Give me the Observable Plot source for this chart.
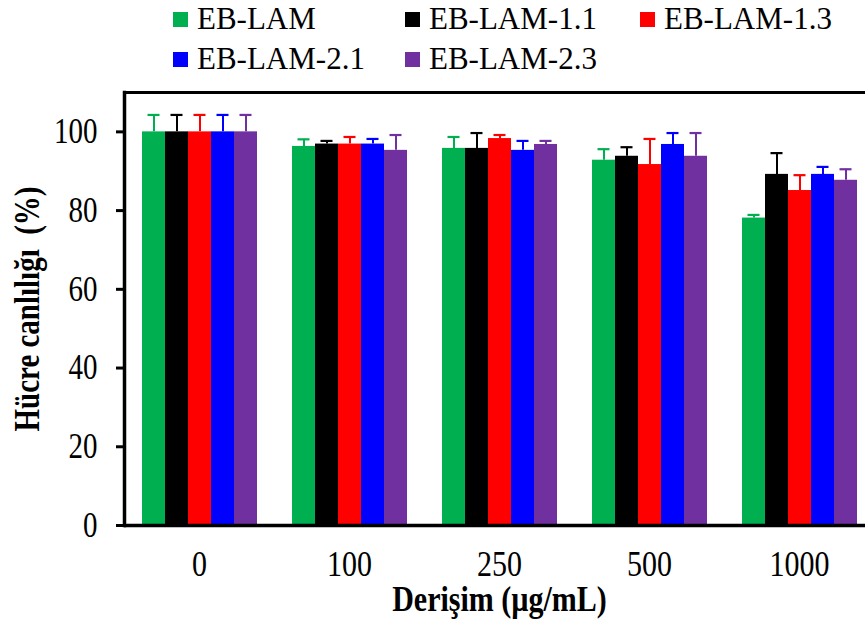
<!DOCTYPE html>
<html>
<head>
<meta charset="utf-8">
<script src="https://cdn.jsdelivr.net/npm/d3@7"></script>
<script src="https://cdn.jsdelivr.net/npm/@observablehq/plot@0.6"></script>
<style>
  html, body { margin: 0; padding: 0; background: #fff; overflow: hidden; }
  #wrap { position: relative; width: 865px; height: 632px; }
  #legend { position: absolute; left: 173px; top: -1px; width: 700px; display: grid;
    grid-template-columns: 232px 235px 225px; font-family: 'Liberation Serif', 'Times New Roman', serif;
    font-size: 31px; line-height: 40px; color: #000; z-index: 2; }
  #legend .item { display: flex; align-items: center; white-space: nowrap; }
  #legend .sw { width: 15px; height: 15px; margin-right: 9px; flex: none; }
  g[aria-label="y-axis label"] text, g[aria-label="fx-axis label"] text { font-weight: bold; }
</style>
</head>
<body>
<div id="wrap"><div id="legend"></div><div id="chart"></div></div>
<script>
const concs = ["0", "100", "250", "500", "1000"];
const series = ["EB-LAM", "EB-LAM-1.1", "EB-LAM-1.3", "EB-LAM-2.1", "EB-LAM-2.3"];
const colors = ["#00B050", "#000000", "#FF0000", "#0000FF", "#7030A0"];
const valEB    = [100, 96.3, 95.8, 92.8, 78.1];
const valEB11  = [100, 96.9, 95.8, 93.8, 89.2];
const valEB13  = [100, 96.9, 98.3, 91.7, 85.1];
const valEB21  = [100, 96.9, 95.3, 96.8, 89.2];
const valEB23  = [100, 95.3, 96.8, 93.8, 87.7];
const errEB    = [4.3, 1.8, 2.9, 2.8, 0.8];
const errEB11  = [4.3, 0.8, 3.9, 2.3, 5.4];
const errEB13  = [4.3, 1.8, 0.9, 6.5, 3.9];
const errEB21  = [4.3, 1.3, 2.4, 2.9, 1.9];
const errEB23  = [4.3, 3.9, 0.9, 5.9, 2.8];
const yTicks = [0, 20, 40, 60, 80, 100];
const yLabel = "Hücre canlılığı\u00a0 (%)";
const xLabel = "Derişim (µg/mL)";

const values = [valEB, valEB11, valEB13, valEB21, valEB23];
const errors = [errEB, errEB11, errEB13, errEB21, errEB23];
const data = [];
concs.forEach((c, i) => series.forEach((s, j) => data.push({conc: c, series: s, value: values[j][i], err: errors[j][i]})));

// legend
const lg = d3.select("#legend");
series.forEach((s, j) => {
  const it = lg.append("div").attr("class", "item");
  it.append("span").attr("class", "sw").style("background", colors[j]);
  it.append("span").text(s);
});

const plot = Plot.plot({
  width: 865,
  height: 632,
  marginLeft: 122,
  marginRight: -10,
  marginTop: 92,
  marginBottom: 107,
  style: {fontFamily: "'Liberation Serif', 'Times New Roman', serif", fontSize: "29px", color: "#000", background: "transparent", overflow: "visible"},
  fx: {domain: concs, paddingInner: 0, paddingOuter: 0},
  x: {domain: series, paddingInner: 0, paddingOuter: 0.746, axis: null},
  y: {domain: [0, 110]},
  color: {domain: series, range: colors},
  marks: [
    Plot.barY(data, {fx: "conc", x: "series", y: "value", fill: "series"}),
    Plot.ruleX(data, {fx: "conc", x: "series", y1: "value", y2: d => d.value + d.err, stroke: "series", strokeWidth: 2}),
    Plot.tickY(data, {fx: "conc", x: "series", y: d => d.value + d.err, stroke: "series", strokeWidth: 2.2, insetLeft: 5.5, insetRight: 5.5}),
    Plot.ruleY([0], {stroke: "#000", strokeWidth: 3.5}),
    Plot.ruleY([110], {stroke: "#000", strokeWidth: 3}),
    Plot.frame({anchor: "left", facetAnchor: "left", stroke: "#000", strokeWidth: 3.5}),
    Plot.axisY({ticks: yTicks, tickSize: 8, tickPadding: 19, strokeWidth: 3, fontSize: 29,
      label: yLabel, labelAnchor: "center", labelOffset: 110, labelArrow: "none"}),
    Plot.axisFx({anchor: "bottom", tickSize: 0, tickPadding: 25, fontSize: 30,
      label: xLabel, labelAnchor: "center", labelOffset: 85, labelArrow: "none"})
  ]
});
document.getElementById("chart").appendChild(plot);

// vertically stretch axis texts to match the reference's tall serif look
const s = 1.22;
plot.querySelectorAll('g[aria-label$="tick label"] text, g[aria-label$="axis label"] text').forEach(t => {
  let x = parseFloat(t.getAttribute("x")); if (!isFinite(x)) x = 0;
  let y = parseFloat(t.getAttribute("y")); if (!isFinite(y)) y = 0;
  const old = t.getAttribute("transform") || "";
  t.setAttribute("transform", `${old} translate(${x} ${y}) scale(1 ${s}) translate(${-x} ${-y})`.trim());
});
</script>
</body>
</html>
